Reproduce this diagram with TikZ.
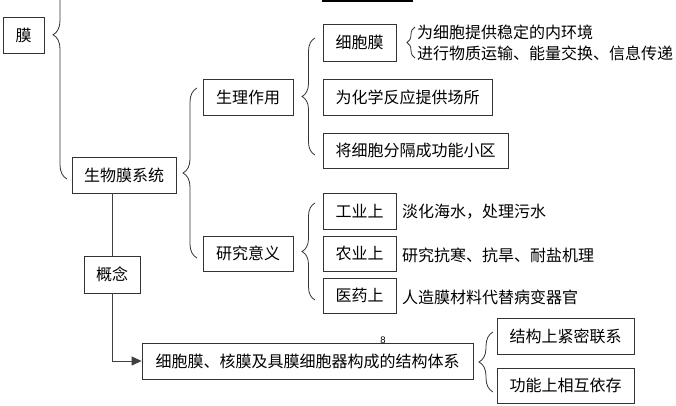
\documentclass[tikz,border=0pt]{standalone}
\usepackage{fontspec}
\newfontfamily\cjk{Noto Sans CJK SC}
\newfontfamily\latn{Liberation Sans}
\usetikzlibrary{decorations.pathreplacing,arrows.meta}
\tikzset{
  bx/.style={draw=black!80, line width=0.8pt, rectangle, inner sep=0pt, font=\cjk\fontsize{16}{18}\selectfont},
  lbl/.style={anchor=west, inner sep=0pt, font=\cjk\fontsize{16}{18}\selectfont},
  brc/.style={draw=black!80, line width=0.8pt, decorate, decoration={brace, amplitude=#1}},
  conn/.style={draw=black!75, line width=1pt},
}
\begin{document}
\begin{tikzpicture}[x=1pt,y=-1pt]
\useasboundingbox[fill=white] (0,0) rectangle (676,406);
\clip (0,0) rectangle (676,406);
% partial box at top
\draw[line width=1.4pt] (323,-30) rectangle (412,1);
% boxes
\node[bx, minimum width=41pt, minimum height=36pt] (mo) at (23.5,35) {膜};
\node[bx, minimum width=104pt, minimum height=36pt] (sw) at (124,175) {生物膜系统};
\node[bx, minimum width=90pt, minimum height=36pt] (sl) at (248,97) {生理作用};
\node[bx, minimum width=90pt, minimum height=35pt] (yj) at (248,253.5) {研究意义};
\node[bx, minimum width=56pt, minimum height=37pt] (gn) at (112,274.5) {概念};
\node[bx, minimum width=331pt, minimum height=36pt] (dy) at (307.5,361) {细胞膜、核膜及具膜细胞器构成的结构体系};
\node[bx, minimum width=73pt, minimum height=37pt] (xbm) at (359.5,42.5) {细胞膜};
\node[bx, minimum width=169pt, minimum height=36pt] (hx) at (407.5,97) {为化学反应提供场所};
\node[bx, minimum width=185pt, minimum height=35pt] (fg) at (415.5,150.5) {将细胞分隔成功能小区};
\node[bx, minimum width=73pt, minimum height=36pt] (gy) at (359.5,211) {工业上};
\node[bx, minimum width=73pt, minimum height=35pt] (ny) at (359.5,253.5) {农业上};
\node[bx, minimum width=73pt, minimum height=35pt] (yy) at (359.5,295.5) {医药上};
\node[bx, minimum width=137pt, minimum height=36pt] (jg) at (565.5,336) {结构上紧密联系};
\node[bx, minimum width=137pt, minimum height=35pt] (xh) at (565.5,385.5) {功能上相互依存};
% texts
\node[lbl] (t1) at (417,32) {为细胞提供稳定的内环境};
\node[lbl] (t2) at (417,53) {进行物质运输、能量交换、信息传递};
\node[lbl] (t3) at (402,212) {淡化海水，处理污水};
\node[lbl] (t4) at (402,255) {研究抗寒、抗旱、耐盐机理};
\node[lbl] (t5) at (402,297) {人造膜材料代替病变器官};
\node[font=\latn\fontsize{9.5}{10}\selectfont, inner sep=0pt] (n8) at (383,340) {8};
% braces
\draw[brc=14pt, decoration={aspect=0.69}] (67,179) -- (67,-30);
\draw[brc=14pt] (197,258) -- (197,88);
\draw[brc=13pt] (315,155) -- (315,38);
\draw[brc=8pt] (415,58) -- (415,27);
\draw[brc=13pt] (315,300) -- (315,203);
\draw[brc=14pt] (493,392) -- (493,332);
% connectors
\draw[conn] (sw.south -| gn.north) -- (gn.north);
\draw[conn, -{Triangle[length=10pt,width=9pt]}] (gn.south) |- (dy.west);
\end{tikzpicture}
\end{document}
